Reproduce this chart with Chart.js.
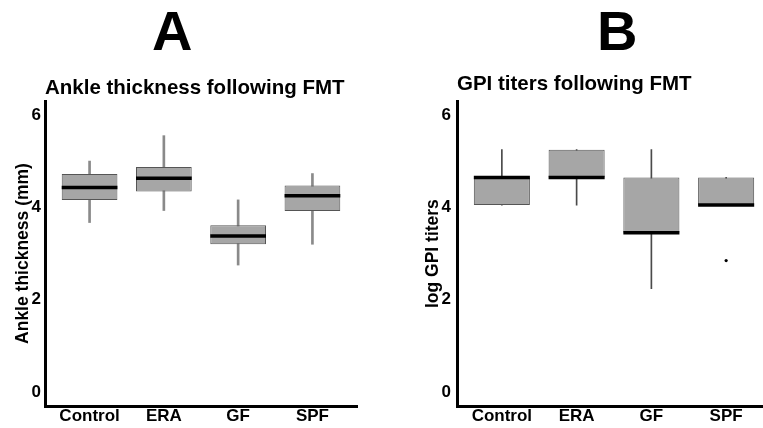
<!DOCTYPE html>
<html lang="en">
<head>
<meta charset="utf-8">
<script src="https://cdn.jsdelivr.net/npm/chart.js@4/dist/chart.umd.min.js"></script>
<style>
  html, body { margin: 0; padding: 0; background: #fff; }
  body { width: 763px; height: 428px; position: relative; overflow: hidden; font-family: "Liberation Sans", Arial, sans-serif; }
  .panel { position: absolute; top: 85px; }
  .letter { position: absolute; top: 3px; font-size: 56px; font-weight: bold; line-height: 1; color: #000; }
  .sub { position: absolute; font-size: 20.5px; font-weight: bold; line-height: 1; color: #000; white-space: nowrap; }
</style>
</head>
<body>
  <div class="panel" style="left:0px"><canvas id="ankleChart" width="380" height="343"></canvas></div>
  <div class="panel" style="left:410px"><canvas id="gpiChart" width="384" height="343"></canvas></div>

  <div class="letter" style="left:152px">A</div>
  <div class="letter" style="left:597px">B</div>
  <div class="sub" style="left:45px; top:77px">Ankle thickness following FMT</div>
  <div class="sub" style="left:457px; top:73px">GPI titers following FMT</div>

<script>
// groups on the x axis
const groups = ['Control', 'ERA', 'GF', 'SPF'];
const yTicks = [0, 2, 4, 6];

// A: ankle thickness (mm) - whisker ends, quartiles, medians
const ankleMin = [3.67, 3.93, 2.75, 3.20];
const ankleQ1  = [4.16, 4.34, 3.20, 3.92];
const ankleMed = [4.43, 4.63, 3.38, 4.25];
const ankleQ3  = [4.72, 4.87, 3.61, 4.47];
const ankleMax = [5.00, 5.55, 4.16, 4.73];

// B: log GPI titers
const gpiMin = [4.05, 4.05, 2.24, 4.05];
const gpiQ1  = [4.05, 4.65, 3.45, 4.05];
const gpiMed = [4.65, 4.65, 3.45, 4.05];
const gpiQ3  = [4.65, 5.25, 4.65, 4.65];
const gpiMax = [5.25, 5.25, 5.25, 4.65];
const gpiOutliers = [null, null, null, 2.85];

const FONT = 'Liberation Sans';

// draws the thick median line across every box
function medianPlugin(values) {
  return {
    id: 'medians',
    afterDatasetsDraw(chart) {
      const meta = chart.getDatasetMeta(1);
      const yScale = chart.scales.y;
      const ctx = chart.ctx;
      ctx.save();
      ctx.strokeStyle = '#000';
      ctx.lineWidth = 3.5;
      meta.data.forEach((bar, i) => {
        const py = yScale.getPixelForValue(values[i]);
        ctx.beginPath();
        ctx.moveTo(bar.x - bar.width / 2, py);
        ctx.lineTo(bar.x + bar.width / 2, py);
        ctx.stroke();
      });
      ctx.restore();
    }
  };
}

function boxChart(id, p) {
  const whiskers = groups.map((g, i) => ({ x: i + 1, y: [p.min[i], p.max[i]] }));
  const boxes = groups.map((g, i) => ({ x: i + 1, y: [p.q1[i], p.q3[i]] }));
  const outs = [];
  (p.outliers || []).forEach((v, i) => { if (v !== null) outs.push({ x: i + 1, y: v }); });

  return new Chart(document.getElementById(id), {
    type: 'bar',
    data: {
      datasets: [
        {
          data: whiskers,
          backgroundColor: p.whiskerColor,
          barThickness: p.whiskerWidth,
          grouped: false,
          order: 2
        },
        {
          data: boxes,
          backgroundColor: '#a6a6a6',
          borderColor: '#555555',
          borderWidth: 1,
          borderSkipped: false,
          categoryPercentage: 0.75,
          barPercentage: 1,
          grouped: false,
          order: 1
        },
        {
          type: 'line',
          data: outs,
          showLine: false,
          pointRadius: 1.6,
          pointBackgroundColor: '#000',
          pointBorderWidth: 0,
          order: 0
        }
      ]
    },
    options: {
      responsive: false,
      animation: false,
      devicePixelRatio: 1,
      layout: { padding: { top: p.padTop, right: 23, left: 0, bottom: 0 } },
      plugins: { legend: { display: false }, tooltip: { enabled: false }, title: { display: false } },
      scales: {
        x: {
          type: 'linear',
          min: 0.4,
          max: 4.6,
          offset: false,
          grid: { display: false, drawTicks: false },
          border: { display: true, color: '#000', width: 3 },
          afterBuildTicks: (s) => { s.ticks = groups.map((g, i) => ({ value: i + 1 })); },
          afterFit: (s) => { s.height = 22; },
          ticks: {
            padding: 0,
            color: '#000',
            font: { family: FONT, size: 17, weight: 'bold' },
            callback: (v) => groups[v - 1]
          }
        },
        y: {
          min: -0.3,
          max: 6.3,
          grid: { display: false, drawTicks: false },
          border: { display: true, color: '#000', width: 3 },
          afterBuildTicks: (s) => { s.ticks = yTicks.map(v => ({ value: v })); },
          afterFit: (s) => { s.width = p.yWidth; },
          ticks: {
            padding: p.tickPad,
            color: '#000',
            font: { family: FONT, size: 17, weight: 'bold' }
          },
          title: {
            display: true,
            text: p.yTitle,
            color: '#000',
            padding: { top: 12.5, bottom: 0 },
            font: { family: FONT, size: 17.5, weight: 'bold' }
          }
        }
      }
    },
    plugins: [medianPlugin(p.med)]
  });
}

boxChart('ankleChart', {
  min: ankleMin, q1: ankleQ1, med: ankleMed, q3: ankleQ3, max: ankleMax,
  whiskerColor: '#8a8a8a', whiskerWidth: 2,
  yTitle: 'Ankle thickness (mm)', yWidth: 45, tickPad: 4, padTop: 16
});

boxChart('gpiChart', {
  min: gpiMin, q1: gpiQ1, med: gpiMed, q3: gpiQ3, max: gpiMax, outliers: gpiOutliers,
  whiskerColor: '#4a4a4a', whiskerWidth: 1,
  yTitle: 'log GPI titers', yWidth: 47, tickPad: 6, padTop: 14
});
</script>
</body>
</html>
